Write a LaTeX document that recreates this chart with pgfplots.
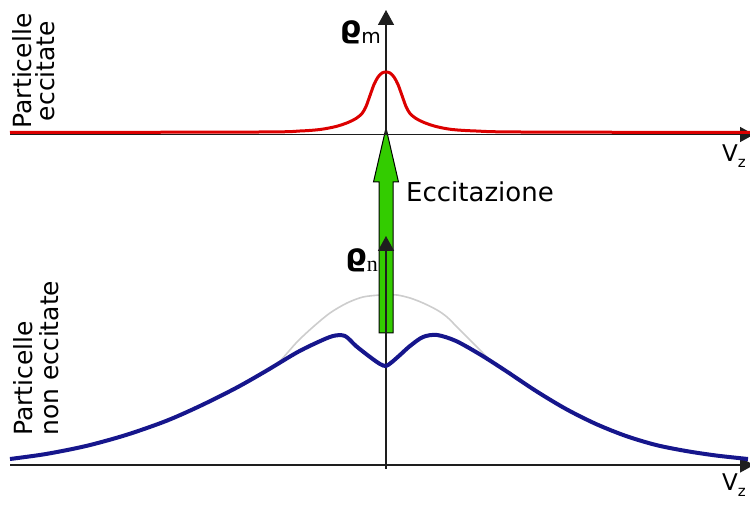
\documentclass[border=0pt]{standalone}
\usepackage{pgfplots}
\pgfplotsset{compat=1.18}
\usepackage{pgfplotstable}
\usepackage{fontspec}
\setmainfont{DejaVu Sans}
\newfontfamily\seriffont{Liberation Serif}
\usetikzlibrary{arrows.meta}

\definecolor{excited}{RGB}{220,0,0}
\definecolor{ground}{RGB}{22,22,140}
\definecolor{original}{RGB}{205,205,205}
\definecolor{pump}{RGB}{51,204,0}
\definecolor{axisline}{RGB}{30,30,30}

% excited population: narrow peak around v_z = 0 (height above its own axis)
\pgfplotstableread{
x h
-376 2
-126 2.5
-86 3.5
-66 5
-50 8
-38 12
-30 16
-24 21
-20 28
-16 39
-12 50
-8 57.5
-4 61.5
0 62.5
4 61.5
8 57.5
12 50
16 39
20 28
24 21
30 16
38 12
50 8
66 5
90 3.5
134 2.5
364 2
}\excitedtab

% ground population after pumping (hole burnt at v_z = 0)
\pgfplotstableread{
x h
-376 6
-340 11
-300 19
-260 30
-220 44
-186 59
-150 77
-120 94
-90 112
-70 122
-53 129
-41 129
-30 119
-16 108
-6 101
0 99
6 103
14 110
24 119
37 128
51 130
70 124
95 110
120 94
150 74
180 56
210 41
240 29
270 20
300 14
330 9.5
362 6
}\groundtab

% ground population before pumping
\pgfplotstableread{
x h
-118 95
-106 104
-89 123
-73 138
-56 152
-39 162
-23 168
-6 170
0 170
11 170
24 167
37 162
51 155
61 148
71 138
81 128
91 118
104 105
116 96
}\originaltab

\begin{document}
\begin{tikzpicture}
\begin{axis}[
  name=main,
  width=750pt, height=506pt, scale only axis,
  xmin=-386, xmax=364, ymin=-41, ymax=465,
  hide axis, clip=false,
]
% distribution before pumping
\addplot[original, line width=1.6pt, smooth, tension=0.5] table[x=x, y=h] {\originaltab};

% excitation arrow
\filldraw[fill=pump, draw=black, line width=1pt]
  (axis cs:-7,132) -- (axis cs:-7,283) -- (axis cs:-12.5,283) -- (axis cs:0,337)
  -- (axis cs:12.5,283) -- (axis cs:7,283) -- (axis cs:7,132) -- cycle;

% axes
\draw[axisline, line width=1.5pt, -{Triangle[length=14pt,width=15pt]}]
  (axis cs:-376,330.5) -- (axis cs:368,330.5);
\draw[axisline, line width=1.5pt, -{Triangle[length=15pt,width=16pt]}]
  (axis cs:0,330.5) -- (axis cs:0,455);
\draw[axisline, line width=1.5pt, -{Triangle[length=14pt,width=15pt]}]
  (axis cs:-376,0) -- (axis cs:368,0);
\draw[axisline, line width=1.5pt, -{Triangle[length=15pt,width=16pt]}]
  (axis cs:0,-4) -- (axis cs:0,229);

% distributions
\addplot[ground, line width=4pt, smooth, tension=0.5] table[x=x, y=h] {\groundtab};
\addplot[excited, line width=3pt, smooth, tension=0.5] table[x=x, y expr=\thisrow{h}+330.5] {\excitedtab};

% labels
\node[anchor=north, rotate=90, align=center, inner sep=0pt,
      font=\fontsize{25}{23}\selectfont] at (axis cs:-374,394) {Particelle\\eccitate};
\node[anchor=north west, rotate=90, align=left, inner sep=0pt,
      font=\fontsize{25}{26}\selectfont] at (axis cs:-373,29) {Particelle\\non eccitate};
\node[anchor=base west, inner sep=0pt, font=\fontsize{26}{30}\selectfont]
  at (axis cs:20,263) {Eccitazione};
\node[anchor=south east, inner sep=0pt] at (axis cs:-5,421)
  {{\fontsize{30}{30}\selectfont\bfseries ϱ}\raisebox{-6pt}{\fontsize{20}{20}\selectfont m}};
\node[anchor=south east, inner sep=0pt] at (axis cs:-8,193)
  {{\fontsize{30}{30}\selectfont\bfseries ϱ}\raisebox{-6pt}{\fontsize{22}{22}\selectfont\seriffont n}};
\node[anchor=base west, inner sep=0pt, font=\fontsize{23}{23}\selectfont]
  at (axis cs:336,303) {V\raisebox{-6pt}{\fontsize{15}{15}\selectfont z}};
\node[anchor=base west, inner sep=0pt, font=\fontsize{23}{23}\selectfont]
  at (axis cs:336,-26) {V\raisebox{-6pt}{\fontsize{15}{15}\selectfont z}};
\end{axis}
\pgfresetboundingbox
\useasboundingbox (main.south west) rectangle (main.north east);
\end{tikzpicture}
\end{document}
